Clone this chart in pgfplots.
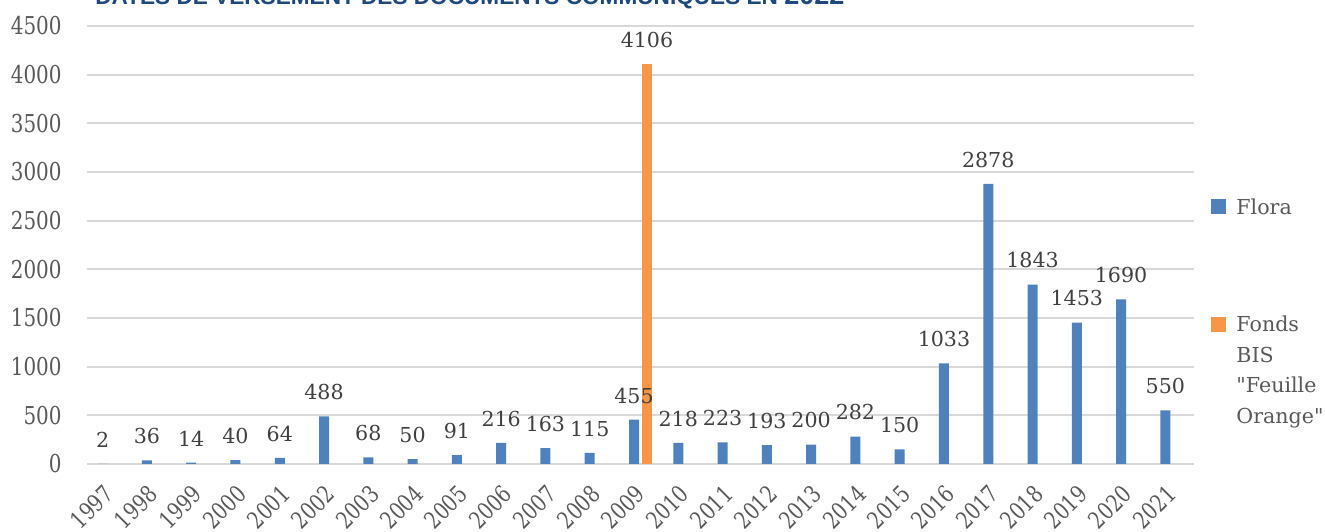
\documentclass[border=0pt]{standalone}
\usepackage{fontspec}
\setmainfont{DejaVu Serif}
\newfontfamily\condfont[FakeStretch=0.81]{DejaVu Serif}
\newfontfamily\titlefont{Liberation Sans}
\usepackage{pgfplots}
\pgfplotsset{compat=1.18}
\definecolor{flora}{HTML}{4F81BD}
\definecolor{bis}{HTML}{F79646}
\definecolor{gridgray}{HTML}{D9D9D9}
\definecolor{txtgray}{HTML}{595959}
\definecolor{lblgray}{HTML}{404040}
\definecolor{titleblue}{HTML}{1F497D}
% square raised to the first of four legend lines
\pgfplotsset{tallsquare/.style={legend image code/.code={\fill[##1] (0pt,45.75pt) rectangle (7.5pt,53.25pt);}}}
\begin{document}
\begin{tikzpicture}
\begin{axis}[
    name=ax,
    at={(0,0)}, anchor=south west,
    scale only axis,
    width=553.5pt, height=219pt,
    ymin=0, ymax=4500,
    ytick={0,500,...,4500},
    xmin=-0.5, xmax=24.5,
    xtick={0,...,24},
    xticklabels={1997,1998,1999,2000,2001,2002,2003,2004,2005,2006,2007,2008,2009,2010,2011,2012,2013,2014,2015,2016,2017,2018,2019,2020,2021},
    /pgf/number format/assume math mode=true,
    /pgf/number format/1000 sep={},
    ymajorgrids=true,
    grid style={draw=gridgray, line width=0.9pt},
    axis line style={draw=none},
    tick style={draw=none},
    yticklabel style={font=\condfont\fontsize{12.3}{14}\selectfont, text=txtgray, anchor=east, inner sep=0pt, xshift=-12.5pt},
    xticklabel style={font=\condfont\fontsize{11.8}{14}\selectfont, text=txtgray, xshift=0pt, yshift=-8.5pt, rotate=45, anchor=east, inner sep=0pt},
    ybar, bar width=5pt,
    legend style={at={(axis description cs:1,0.616)}, anchor=north west, xshift=8.5pt, draw=none, fill=none, inner sep=0pt,
        row sep=45.5pt, column sep=0pt,
        cells={anchor=base west, align=left, inner sep=0pt, text=txtgray, font=\fontsize{10.3}{15.25}\selectfont}},
    legend image code/.code={\fill[#1] (0pt,0pt) rectangle (7.5pt,7.5pt);},
    nodes near coords style={font=\fontsize{10.3}{12}\selectfont, text=lblgray, anchor=south, inner sep=0pt, yshift=8pt},
    clip=false,
]
\addplot[fill=flora, draw=none, bar shift=-3.25pt, nodes near coords] coordinates {
    (0,2)(1,36)(2,14)(3,40)(4,64)(5,488)(6,68)(7,50)(8,91)(9,216)
    (10,163)(11,115)(12,455)(13,218)(14,223)(15,193)(16,200)(17,282)
    (18,150)(19,1033)(20,2878)(21,1843)(22,1453)(23,1690)(24,550)
};
\addlegendentry{\hspace{3pt}Flora}
\addplot[fill=bis, draw=none, bar shift=3.25pt, nodes near coords, tallsquare] coordinates {
    (12,4106)
};
\addlegendentry{\hspace{3pt}Fonds\\\hspace{3pt}BIS\\\hspace{3pt}\textquotedbl Feuille\\\hspace{3pt}Orange\textquotedbl}
\node[anchor=base west, inner sep=0pt, text=titleblue, font=\titlefont\bfseries\fontsize{11.3}{13}\selectfont]
    at ([shift={(4pt,10.5pt)}]rel axis cs:0,1) {DATES DE VERSEMENT DES DOCUMENTS COMMUNIQUÉS EN {\fontsize{13.5}{15}\selectfont 2022}};
\end{axis}
\pgfresetboundingbox
\path[use as bounding box] ([shift={(-43.5pt,-34pt)}]ax.south west) rectangle ([shift={(65.5pt,13pt)}]ax.north east);
\end{tikzpicture}
\end{document}
